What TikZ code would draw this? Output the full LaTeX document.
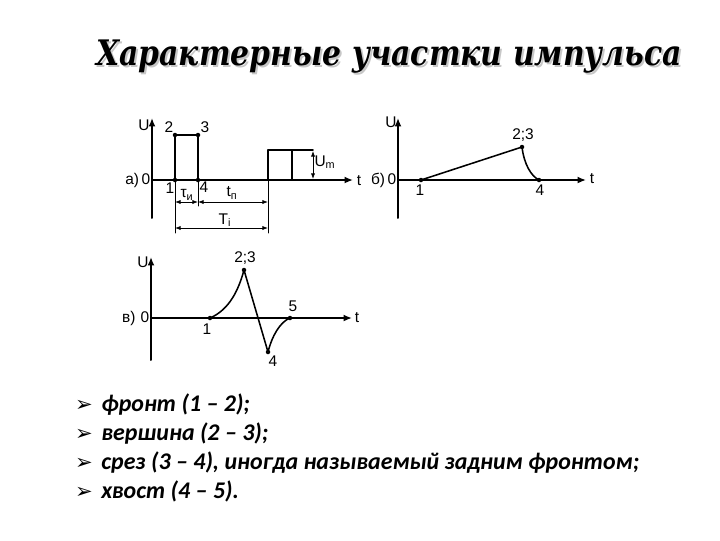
\documentclass[tikz,border=0pt]{standalone}
\usepackage{fontspec}
\usepackage{graphicx}
\setmainfont{Liberation Sans}
\newfontfamily\titlefont{DejaVu Serif}
\newfontfamily\listfont{Carlito}
\newfontfamily\symfont{DejaVu Sans}
\usetikzlibrary{arrows.meta}

\newcommand{\titletext}{\scalebox{0.85}[1]{Характерные участки импульса}}

\tikzset{
  axis/.style={line width=1.4pt, -{Latex[length=6pt,width=5pt]}},
  pulse/.style={line width=1.1pt},
  ext/.style={line width=0.7pt},
  dim/.style={line width=0.6pt, {Latex[length=4pt,width=3pt]}-{Latex[length=4pt,width=3pt]}},
  lbl/.style={font=\fontsize{11}{13}\selectfont, inner sep=1pt},
  heading/.style={font=\titlefont\bfseries\itshape\fontsize{25}{30}\selectfont},
  item/.style={font=\listfont\bfseries\itshape\fontsize{17}{20}\selectfont, anchor=base west, inner sep=0pt},
  bullet/.style={font=\symfont\fontsize{15}{16}\selectfont, anchor=base, inner sep=0pt},
}

\begin{document}
\begin{tikzpicture}[x=0.025cm, y=-0.025cm, line cap=round, line join=round]
	\useasboundingbox (0,0) rectangle (720,540);
	
	% Title
	\node[heading, text=black!22] at (391,59) {\titletext};
	\node (title) [heading] at (389,57) {\titletext};
	
	% ---- a) rectangular pulses
	\coordinate (Oa) at (152,180);
	\coordinate (Ua) at (152,118);
	\coordinate (Da) at (152,218);
	\coordinate (Ta) at (353,180);
	\draw[axis] (Da) -- (Ua);
	\draw[axis] (Oa) -- (Ta);
	
	\coordinate (a1) at (175,180);
	\coordinate (a2) at (175,135);
	\coordinate (a3) at (198,135);
	\coordinate (a4) at (198,180);
	\draw[pulse] (a1) -- (a2) -- (a3) -- (a4);
	
	% next pulse
	\coordinate (b1) at (268,180);
	\coordinate (b2) at (268,150);
	\coordinate (b3) at (292,150);
	\coordinate (b4) at (292,180);
	\coordinate (b5) at (313,150);
	\draw[pulse] (b1) -- (b2) -- (b5);
	\draw[pulse] (b3) -- (b4);
	
	% extension lines
	\coordinate (e1) at (175,233);
	\coordinate (e4) at (198,206);
	\coordinate (e5) at (268,233);
	\draw[ext] (a1) -- (e1);
	\draw[ext] (a4) -- (e4);
	\draw[ext] (b1) -- (e5);
	
	% dimensions
	\coordinate (d1) at (175,202);
	\coordinate (d2) at (198,202);
	\coordinate (d3) at (268,202);
	\coordinate (d4) at (175,228);
	\coordinate (d5) at (268,228);
	\coordinate (m1) at (313,151);
	\coordinate (m2) at (313,179);
	\draw[dim] (d1) -- (d2);
	\draw[dim] (d2) -- (d3);
	\draw[dim] (d4) -- (d5);
	\draw[dim] (m1) -- (m2);
	
	\foreach \p in {a1, a2, a3, a4} {
		\fill (\p) circle (1.6pt);
	}
	
	\node[lbl, left] at (Oa) {а)\,0};
	\node[lbl] at (144,125) {U};
	\node[lbl] at (359,181) {t};
	\node[lbl] at (169,127) {2};
	\node[lbl] at (205,127) {3};
	\node[lbl] at (170,188) {1};
	\node[lbl] at (204,187) {4};
	\node[lbl] at (187,195) {τ\textsubscript{и}};
	\node[lbl] at (232,193) {t\textsubscript{п}};
	\node[lbl] at (225,220) {T\textsubscript{i}};
	\node[lbl] at (325,162) {U\textsubscript{m}};
	
	% ---- б) sawtooth pulse
	\coordinate (Ob) at (398,180);
	\coordinate (Ub) at (398,118);
	\coordinate (Db) at (398,218);
	\coordinate (Tb) at (586,180);
	\draw[axis] (Db) -- (Ub);
	\draw[axis] (Ob) -- (Tb);
	
	\coordinate (c1) at (421,180);
	\coordinate (c23) at (522,147);
	\coordinate (c4) at (539,180);
	\draw[pulse] (c1) -- (c23) .. controls (524,164) and (531,176) .. (c4);
	
	\foreach \p in {c1, c23, c4} {
		\fill (\p) circle (1.6pt);
	}
	
	\node[lbl, left] at (Ob) {б)\,0};
	\node[lbl] at (391,122) {U};
	\node[lbl] at (592,179) {t};
	\node[lbl] at (420,190) {1};
	\node[lbl] at (523,135) {2;3};
	\node[lbl] at (540,190) {4};
	
	% ---- в) pulse with tail
	\coordinate (Oc) at (151,318);
	\coordinate (Uc) at (151,257);
	\coordinate (Dc) at (151,360);
	\coordinate (Tc) at (352,318);
	\draw[axis] (Dc) -- (Uc);
	\draw[axis] (Oc) -- (Tc);
	
	\coordinate (f1) at (210,318);
	\coordinate (f23) at (244,270);
	\coordinate (f4) at (268,352);
	\coordinate (f5) at (290,318);
	\draw[pulse] (f1) .. controls (226,311) and (237,296) .. (f23) -- (f4)
		.. controls (272,336) and (280,322) .. (f5);
	
	\foreach \p in {f1, f23, f4, f5} {
		\fill (\p) circle (1.6pt);
	}
	
	\node[lbl, left] at (Oc) {в)\,\,0};
	\node[lbl] at (143,262) {U};
	\node[lbl] at (357,318) {t};
	\node[lbl] at (207,329) {1};
	\node[lbl] at (245,258) {2;3};
	\node[lbl] at (273,361) {4};
	\node[lbl] at (293,306) {5};
	
	% ---- list
	\foreach \y/\txt in {411/{фронт (1 – 2);},
		440/{вершина (2 – 3);},
		469/{срез (3 – 4), иногда называемый задним фронтом;},
		498/{хвост (4 – 5).}} {
		\node[bullet] at (84,\y) {➢};
		\node[item] at (101,\y) {\txt};
	}
	
\end{tikzpicture}
\end{document}
